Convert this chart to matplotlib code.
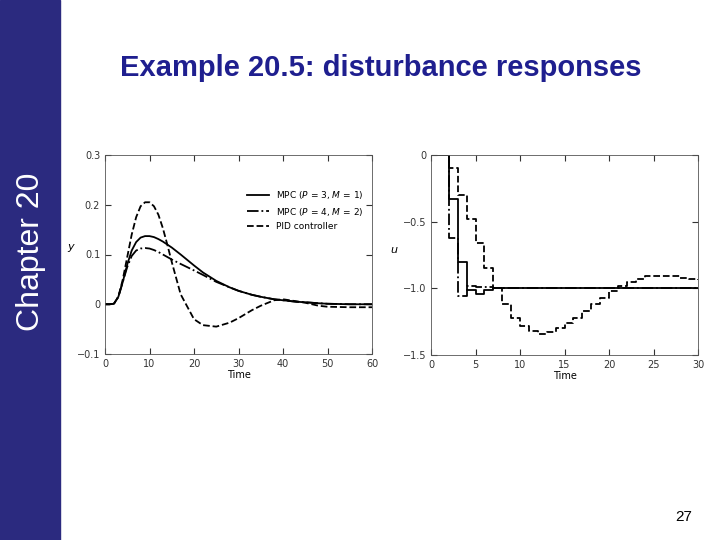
import matplotlib
matplotlib.use("Agg")
import matplotlib.pyplot as plt
from matplotlib.patches import Rectangle

# Left plot data
t_y = [0, 1, 2, 3, 4, 5, 6, 7, 8, 9, 10, 11, 12, 13, 14, 15, 17, 20, 22, 25, 28, 30, 33, 35, 38, 40, 43, 45, 48, 50, 55, 60]
y_mpc1 = [0, 0, 0.001, 0.015, 0.045, 0.08, 0.108, 0.125, 0.134, 0.137, 0.137, 0.135, 0.131, 0.126, 0.12, 0.114, 0.1, 0.078, 0.064, 0.047, 0.034, 0.027, 0.019, 0.015, 0.01, 0.008, 0.005, 0.004, 0.002, 0.001, 0.0, 0.0]
y_mpc2 = [0, 0, 0.001, 0.015, 0.045, 0.075, 0.097, 0.108, 0.112, 0.113, 0.112, 0.109, 0.105, 0.1, 0.095, 0.09, 0.081, 0.068, 0.059, 0.045, 0.034, 0.027, 0.019, 0.015, 0.01, 0.008, 0.005, 0.004, 0.002, 0.001, 0.0, 0.0]
y_pid = [0, 0, 0.001, 0.015, 0.05, 0.095, 0.14, 0.175, 0.197, 0.205, 0.205, 0.197, 0.18, 0.153, 0.12, 0.085, 0.02, -0.03, -0.042, -0.045, -0.037, -0.028, -0.012, -0.003, 0.008, 0.01, 0.006, 0.003, -0.003, -0.005, -0.006, -0.006]

# Right plot data (step signals)
t_u = list(range(0, 31))
u_mpc1 = [0, 0, -0.33, -0.8, -1.01, -1.04, -1.01] + [-1.0] * 24
u_mpc2 = [0, 0, -0.62, -1.06, -0.98, -0.99, -0.99] + [-1.0] * 24
u_pid = [0, 0, -0.1, -0.3, -0.48, -0.66, -0.85, -1.0, -1.12, -1.22, -1.28, -1.32, -1.34, -1.33, -1.3, -1.26,
         -1.22, -1.17, -1.12, -1.07, -1.02, -0.98, -0.95, -0.93, -0.91, -0.905, -0.905, -0.91, -0.92, -0.93, -0.94]

fig = plt.figure(figsize=(7.2, 5.4), dpi=100)
fig.patch.set_facecolor("white")
fig.add_artist(Rectangle((0, 0), 60/720, 1, transform=fig.transFigure, color="#2B2A7F", zorder=0))
fig.text(31/720, 1 - 252/540, "Chapter 20", rotation=90, color="white", fontsize=23,
         ha="center", va="center", family="Liberation Sans")
fig.text(381/720, 1 - 68/540, "Example 20.5: disturbance responses", color="#1F1F8F", fontsize=21,
         fontweight="bold", ha="center", va="center", family="Liberation Sans")
fig.text(684/720, 1 - 517/540, "27", fontsize=11, ha="center", va="center", family="Liberation Sans")

def style(ax):
    ax.tick_params(direction="in", top=True, right=True, labelsize=7, length=4, colors="#333333")
    for s in ax.spines.values():
        s.set_linewidth(0.6)
        s.set_color("#555555")

ax1 = fig.add_axes([105/720, 1 - 354/540, 267/720, 199/540])
ax1.plot(t_y, y_mpc1, "k-", lw=1.3, label="MPC ($P$ = 3, $M$ = 1)")
ax1.plot(t_y, y_mpc2, "k-.", lw=1.3, label="MPC ($P$ = 4, $M$ = 2)")
ax1.plot(t_y, y_pid, "k--", lw=1.3, label="PID controller")
ax1.set_xlim(0, 60)
ax1.set_ylim(-0.1, 0.3)
ax1.set_xticks([0, 10, 20, 30, 40, 50, 60])
ax1.set_yticks([-0.1, 0, 0.1, 0.2, 0.3])
ax1.set_yticklabels(["\u22120.1", "0", "0.1", "0.2", "0.3"])
ax1.set_xlabel("Time", fontsize=7, labelpad=1)
ax1.set_ylabel("$y$", fontsize=8, rotation=0, labelpad=4)
ax1.legend(loc="upper right", fontsize=6.5, frameon=False, handlelength=2.5, bbox_to_anchor=(1.0, 0.87))
style(ax1)

ax2 = fig.add_axes([431/720, 1 - 355/540, 267/720, 200/540])
ax2.step(t_u, u_mpc1, "k-", where="post", lw=1.3)
ax2.step(t_u, u_mpc2, "k-.", where="post", lw=1.3)
ax2.step(t_u, u_pid, "k--", where="post", lw=1.3)
ax2.set_xlim(0, 30)
ax2.set_ylim(-1.5, 0)
ax2.set_xticks([0, 5, 10, 15, 20, 25, 30])
ax2.set_yticks([-1.5, -1.0, -0.5, 0])
ax2.set_yticklabels(["\u22121.5", "\u22121.0", "\u22120.5", "0"])
ax2.set_xlabel("Time", fontsize=7, labelpad=1)
ax2.set_ylabel("$u$", fontsize=8, rotation=0, labelpad=6)
style(ax2)

fig.savefig("out.png", dpi=100)
